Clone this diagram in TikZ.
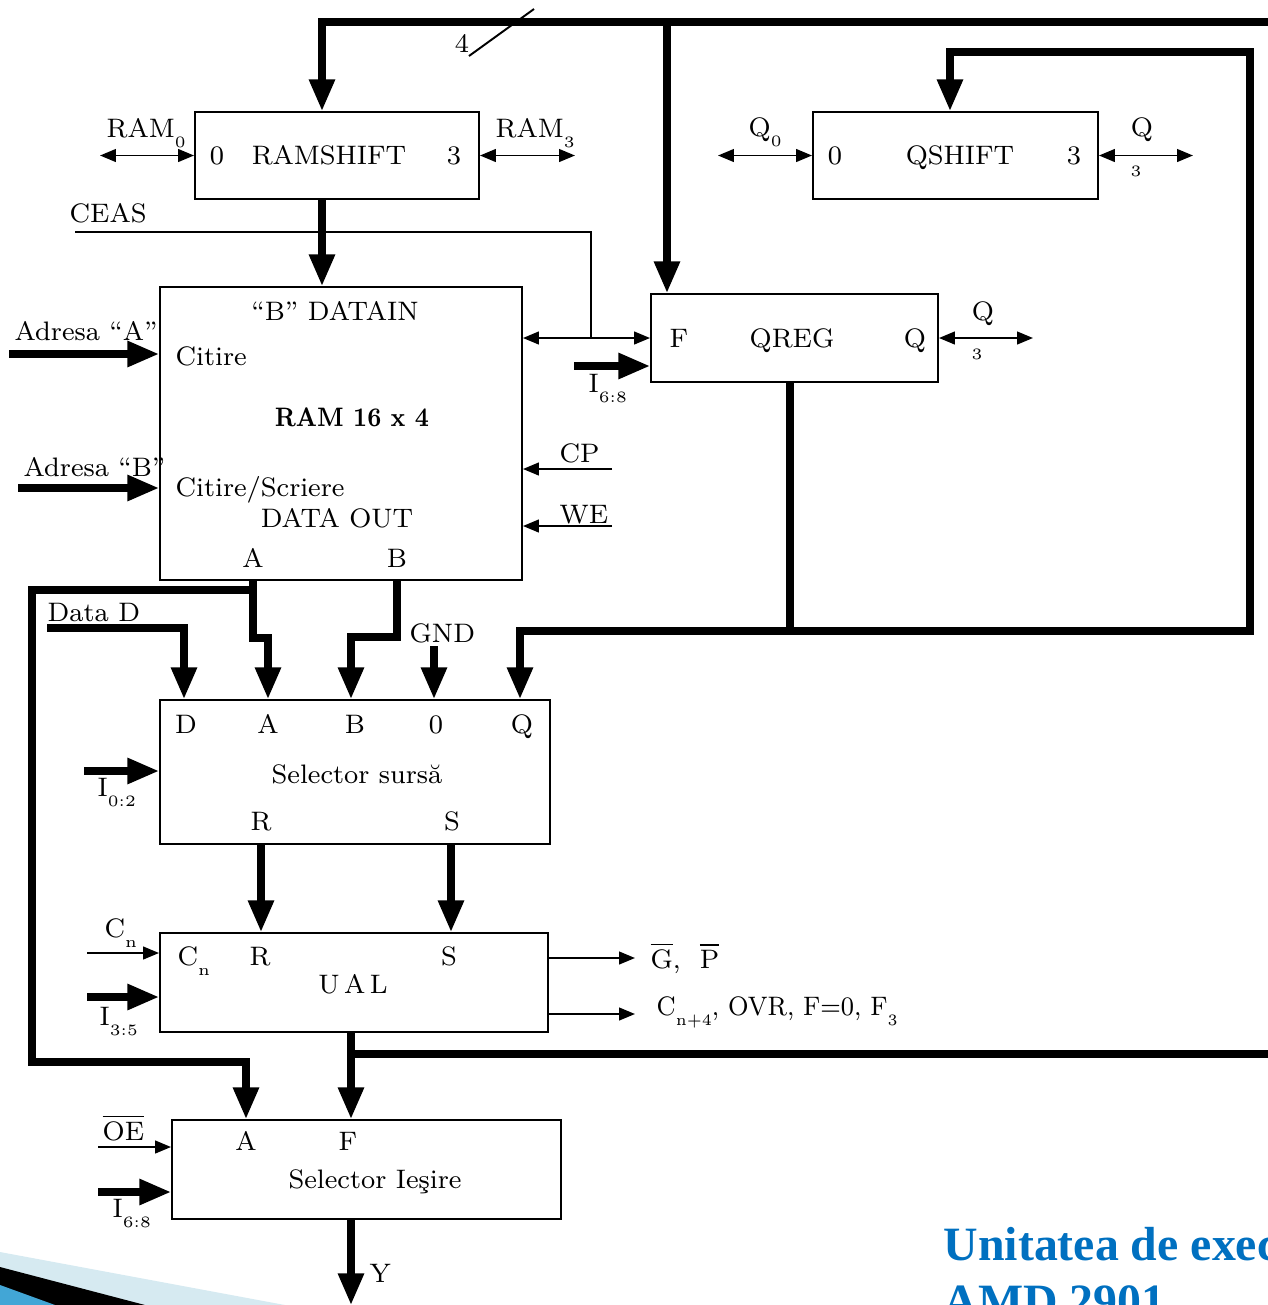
\documentclass[tikz,border=0pt]{standalone}
\usepackage{fontspec}
\usetikzlibrary{arrows.meta, positioning, calc, fit}
\newfontfamily\titlefont{Liberation Serif}
\definecolor{titleblue}{RGB}{0,112,192}
\definecolor{bandlight}{RGB}{214,234,241}
\definecolor{bandblue}{RGB}{66,166,214}
\newcommand{\lowsub}[1]{\raisebox{-2.9pt}{\fontsize{4.5}{5}\selectfont #1}}
\newcommand{\barred}[1]{$\overline{\mbox{#1}}$}

\begin{document}
\begin{tikzpicture}[x=0.01cm, y=-0.01cm, font=\fontsize{7.6}{9.1}\selectfont,
    blk/.style={draw, line width=0.55pt, inner sep=0pt},
    lbl/.style={inner sep=0pt, anchor=base},
    lblw/.style={inner sep=0pt, anchor=base west},
    tinylbl/.style={inner sep=0pt, anchor=base, font=\fontsize{4.5}{5}\selectfont},
    bus/.style={line width=2pt},
    busarr/.style={bus, -{Triangle[length=9pt,width=7pt]}},
    sig/.style={line width=0.55pt},
    sigarr/.style={sig, -{Triangle[length=4.5pt,width=3.6pt]}},
    sigboth/.style={sig, {Triangle[length=4.5pt,width=3.6pt]}-{Triangle[length=4.5pt,width=3.6pt]}}]

\useasboundingbox (0,0) rectangle (1268,1305);
\clip (0,0) rectangle (1268,1305);

% slide background
\fill[bandlight] (0,1252) -- (285,1305) -- (0,1305) -- cycle;
\fill[black] (0,1267) -- (145,1305) -- (0,1305) -- cycle;
\fill[bandblue] (0,1285) -- (55,1305) -- (0,1305) -- cycle;
\node[inner sep=0pt, anchor=base west, text=titleblue, font=\titlefont\bfseries\fontsize{13.6}{16}\selectfont] (title1) at (943,1260) {Unitatea de exec};
\node[inner sep=0pt, anchor=base west, text=titleblue, font=\titlefont\bfseries\fontsize{13.6}{16}\selectfont] (title2) at (943,1317) {AMD 2901};

% blocks
\node[blk, fit={(195,112) (479,199)}] (ramshift) {};
\node[blk, fit={(813,112) (1098,199)}] (qshift) {};
\node[blk, fit={(160,287) (522,580)}] (ram) {};
\node[blk, fit={(651,294) (938,382)}] (qreg) {};
\node[blk, fit={(160,700) (550,844)}] (sel) {};
\node[blk, fit={(160,933) (548,1032)}] (alu) {};
\node[blk, fit={(172,1120) (561,1219)}] (outsel) {};

% texts in the blocks
\node[lbl] (rs0) at (217,164) {0};
\node[lbl] (rsname) at (329,164) {RAMSHIFT};
\node[lbl] (rs3) at (454,164) {3};
\node[lbl] (qs0) at (835,164) {0};
\node[lbl] (qsname) at (960,164) {QSHIFT};
\node[lbl] (qs3) at (1074,164) {3};
\node[lbl] (bdatain) at (335,320) {``B'' DATAIN};
\node[lblw] (citire) at (175,365) {Citire};
\node[lbl, font=\fontsize{7.6}{9.1}\selectfont\bfseries] (ramname) at (352,426) {\scalebox{0.86}[1]{RAM 16 x 4}};
\node[lblw] (citscr) at (175,496) {Citire/Scriere};
\node[lbl] (dataout) at (337,527) {DATA OUT};
\node[lbl] (ramA) at (253,567) {A};
\node[lbl] (ramB) at (397,567) {B};
\node[lblw] (qrF) at (669,347) {F};
\node[lbl] (qrname) at (792,347) {QREG};
\node[lbl] (qrQ) at (915,347) {Q};
\node[lbl] (selD) at (186,733) {D};
\node[lbl] (selA) at (268,733) {A};
\node[lbl] (selB) at (355,733) {B};
\node[lbl] (sel0) at (436,733) {0};
\node[lbl] (selQ) at (522,733) {Q};
\node[lbl] (selname) at (357,783) {Selector surs\u{a}};
\node[lbl] (selR) at (261,830) {R};
\node[lbl] (selS) at (452,830) {S};
\node[lblw] (aluCn) at (177,965) {C\lowsub{n}};
\node[lbl] (aluR) at (260,965) {R};
\node[lbl] (aluS) at (449,965) {S};
\node[lbl] (aluname) at (353,993) {U\,A\,L};
\node[lbl] (osA) at (246,1150) {A};
\node[lbl] (osF) at (348,1150) {F};
\node[lbl] (osname) at (375,1188) {Selector Ie\c{s}ire};

% outer labels
\node[lbl] (four) at (462,52) {4};
\node[lblw] (ram0) at (106,137) {RAM\lowsub{0}};
\node[lblw] (ram3) at (495,137) {RAM\lowsub{3}};
\node[lblw] (q0) at (748,136) {Q\lowsub{0}};
\node[lbl] (qsq) at (1142,136) {Q};
\node[tinylbl] (qsq3) at (1136,176) {3};
\node[lbl] (qrq) at (983,320) {Q};
\node[tinylbl] (qrq3) at (977,359) {3};
\node[lblw] (ceas) at (69,222) {CEAS};
\node[lblw] (adrA) at (14,340) {Adresa ``A''};
\node[lblw] (adrB) at (23,476) {Adresa ``B''};
\node[lblw] (i68a) at (588,392) {I\lowsub{6:8}};
\node[lblw] (cp) at (559,462) {CP};
\node[lblw] (we) at (559,523) {WE};
\node[lblw] (datad) at (47,621) {Data D};
\node[lblw] (gnd) at (409,642) {GND};
\node[lblw] (i02) at (97,796) {I\lowsub{0:2}};
\node[lblw] (cn) at (104,937) {C\lowsub{n}};
\node[lblw] (i35) at (99,1025) {I\lowsub{3:5}};
\node[lblw] (gp) at (650,968) {\barred{G},\ \ \barred{P}};
\node[lblw] (flags) at (656,1015) {\scalebox{0.93}[1]{C\lowsub{n+4}, OVR, F=0, F\lowsub{3}}};
\node[lblw] (oe) at (102,1140) {\barred{OE}};
\node[lblw] (i68b) at (112,1217) {I\lowsub{6:8}};
\node[lblw] (yout) at (369,1282) {Y};

% bus points
\coordinate (busE) at (1290,22);
\coordinate (busW) at (322,22);
\coordinate (busQ) at (667,22);
\coordinate (fbJ) at (790,631);
\coordinate (fbR) at (1250,631);
\coordinate (fbT) at (1250,52);
\coordinate (fbQ) at (950,52);
\coordinate (qin) at (520,631);
\coordinate (loopT) at (32,590);
\coordinate (loopB) at (32,1062);
\coordinate (loopA) at (246,1062);
\coordinate (aJog) at (253,638);
\coordinate (aJog2) at (268,638);
\coordinate (bJog) at (397,637);
\coordinate (bJog2) at (351,637);
\coordinate (dStart) at (47,628);
\coordinate (dCorner) at (184,628);
\coordinate (gndTop) at (434,646);
\coordinate (fBranch) at (351,1054);
\coordinate (fEnd) at (1290,1054);
\coordinate (yEnd) at (351,1305);

% top bus F
\draw[busarr] (busE) -- (busW) -- (ramshift.north -| busW);
\draw[busarr] (busQ) -- (qreg.north -| busQ);
\draw[sig] (469,56) -- (534,9);
\draw[busarr] (ramshift.south -| busW) -- (ram.north -| busW);

% shift lines
\draw[sigboth] (100,155.5) -- (ramshift.west);
\draw[sigboth] (ramshift.east) -- (575,155.5);
\draw[sigboth] (718,155.5) -- (qshift.west);
\draw[sigboth] (qshift.east) -- (1193,155.5);
\draw[sigboth] (qreg.east) -- (1033,338);

% clock and controls
\draw[sig] (75,232) -- (591,232) -- (591,338);
\draw[sigboth] (ram.east |- qreg.west) -- (qreg.west);
\draw[busarr] (574,366) -- (qreg.west |- 0,366);
\draw[sigarr] (612,469) -- (ram.east |- 0,469);
\draw[sigarr] (612,526) -- (ram.east |- 0,526);
\draw[busarr] (9,354) -- (ram.west |- 0,354);
\draw[busarr] (18,488) -- (ram.west |- 0,488);

% Q feedback
\draw[bus] (qreg.south -| fbJ) -- (fbJ);
\draw[busarr] (fbJ) -- (fbR) -- (fbT) -- (fbQ) -- (qshift.north -| fbQ);
\draw[busarr] (fbJ) -- (qin) -- (sel.north -| qin);

% RAM outputs
\draw[busarr] (ram.south -| aJog) -- (aJog) -- (aJog2) -- (sel.north -| aJog2);
\draw[busarr] (ram.south -| bJog) -- (bJog) -- (bJog2) -- (sel.north -| bJog2);
\draw[busarr] (loopT -| aJog) -- (loopT) -- (loopB) -- (loopA) -- (outsel.north -| loopA);
\draw[busarr] (dStart) -- (dCorner) -- (sel.north -| dCorner);
\draw[busarr] (gndTop) -- (sel.north -| gndTop);
\draw[busarr] (84,771) -- (sel.west |- 0,771);

% ALU
\draw[busarr] (sel.south -| selR) -- (alu.north -| selR);
\draw[busarr] (sel.south -| 451,0) -- (alu.north -| 451,0);
\draw[sigarr] (87,953) -- (alu.west |- 0,953);
\draw[busarr] (87,997) -- (alu.west |- 0,997);
\draw[sigarr] (alu.east |- 0,958) -- (635,958);
\draw[sigarr] (alu.east |- 0,1014) -- (635,1014);
\draw[busarr] (alu.south -| fBranch) -- (outsel.north -| fBranch);
\draw[bus] (fBranch) -- (fEnd);

% output selector
\draw[sigarr] (98,1147) -- (outsel.west |- 0,1147);
\draw[busarr] (98,1192) -- (outsel.west |- 0,1192);
\draw[busarr] (outsel.south -| yEnd) -- (yEnd);
\end{tikzpicture}
\end{document}
